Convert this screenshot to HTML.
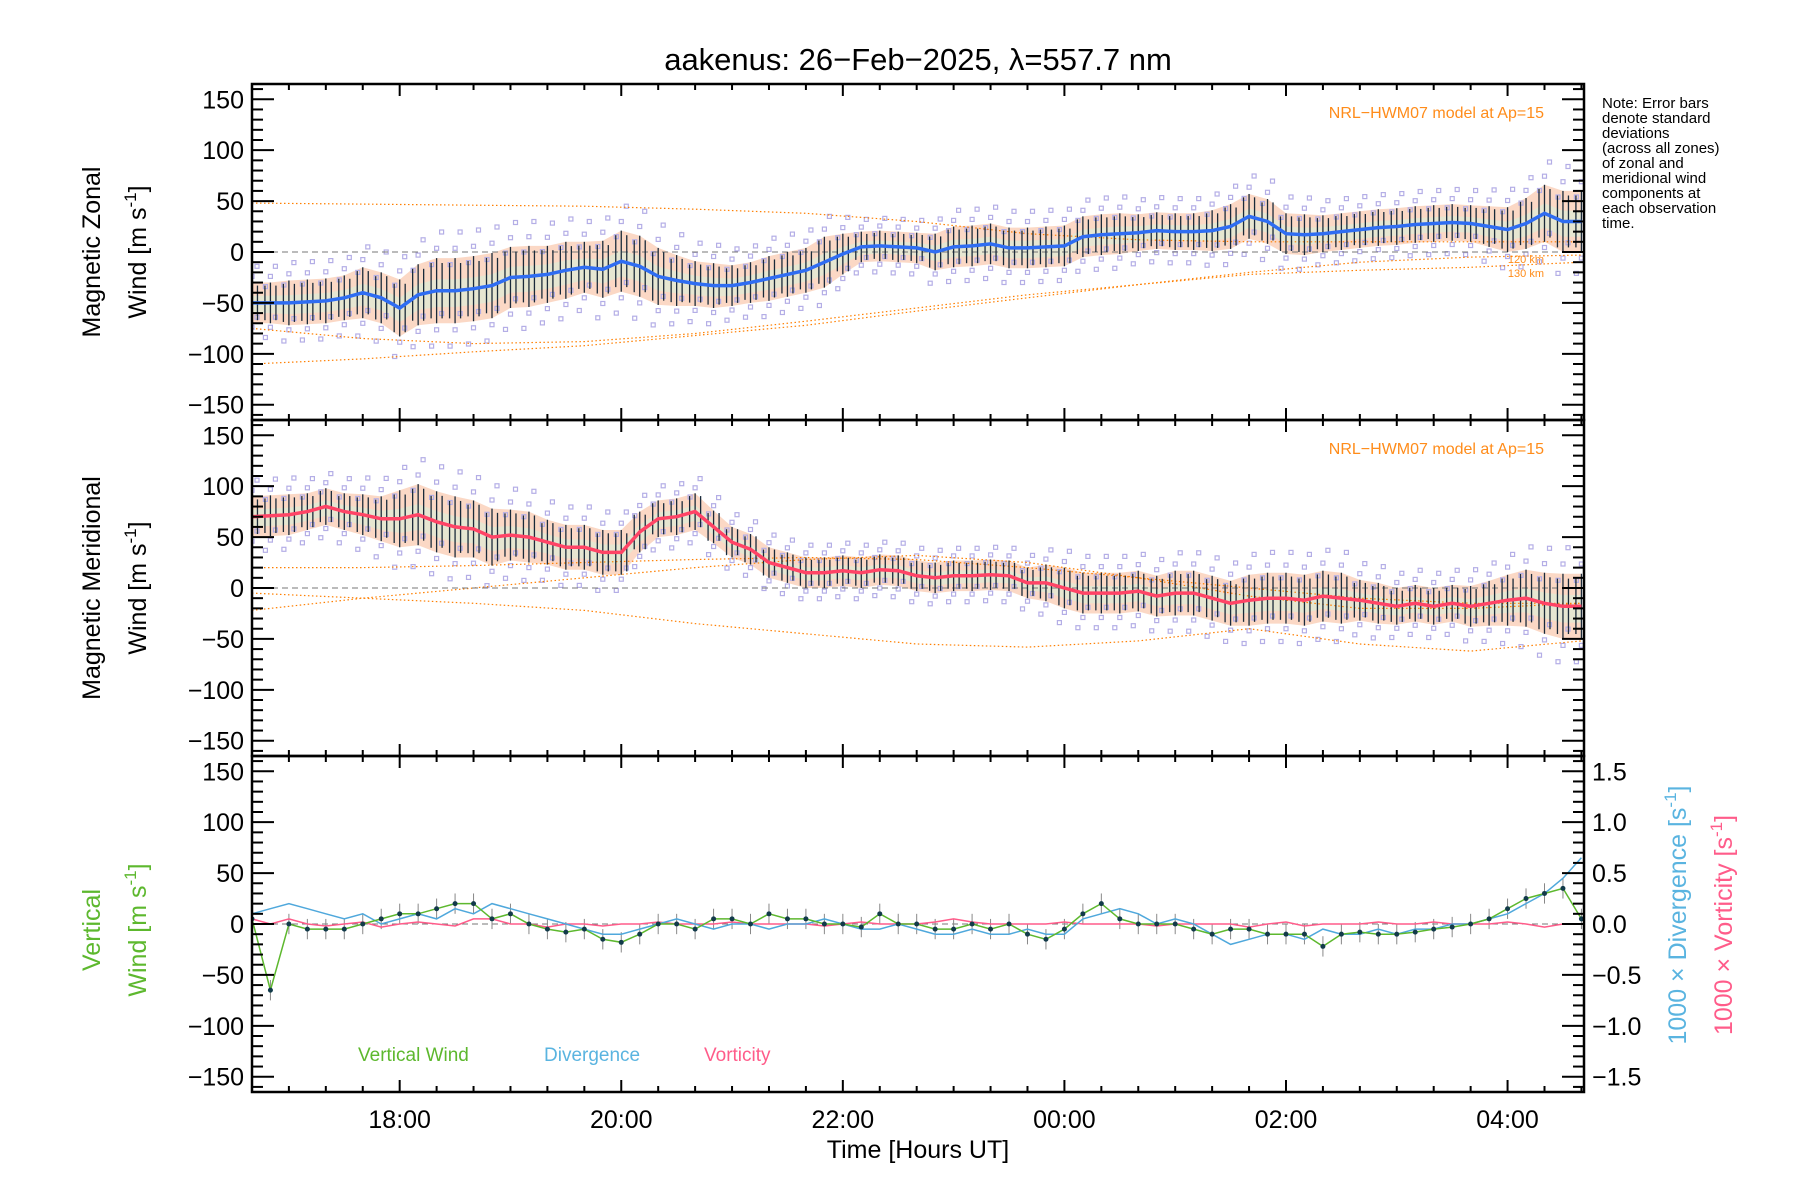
<!DOCTYPE html>
<html><head><meta charset="utf-8"><style>
html,body{margin:0;padding:0;background:#fff;}
svg{display:block;font-family:"Liberation Sans",sans-serif;}
</style></head><body>
<svg id="chart" width="1800" height="1200" viewBox="0 0 1800 1200" xmlns="http://www.w3.org/2000/svg">
<defs>
<clipPath id="clip0"><rect x="252" y="84" width="1332" height="336"/></clipPath>
<clipPath id="clip1"><rect x="252" y="420" width="1332" height="336"/></clipPath>
<clipPath id="clip2"><rect x="252" y="756" width="1332" height="336"/></clipPath>
</defs>
<text x="918" y="70" font-size="31" text-anchor="middle">aakenus: 26−Feb−2025, λ=557.7 nm</text>
<g id="g-note" font-size="15">
<text x="1602" y="108">Note: Error bars</text><text x="1602" y="123">denote standard</text><text x="1602" y="138">deviations</text><text x="1602" y="153">(across all zones)</text><text x="1602" y="168">of zonal and</text><text x="1602" y="183">meridional wind</text><text x="1602" y="198">components at</text><text x="1602" y="213">each observation</text><text x="1602" y="228">time.</text>
</g>
<text x="1544" y="118" font-size="16" fill="#ff8c1a" text-anchor="end">NRL−HWM07 model at Ap=15</text>
<text x="1544" y="454" font-size="16" fill="#ff8c1a" text-anchor="end">NRL−HWM07 model at Ap=15</text>
<text x="1544" y="263" font-size="11" fill="#ff8c1a" text-anchor="end">120 km</text>
<text x="1544" y="277" font-size="11" fill="#ff8c1a" text-anchor="end">130 km</text>
<text transform="translate(100,252) rotate(-90)" font-size="25" text-anchor="middle">Magnetic Zonal</text>
<text transform="translate(146,252) rotate(-90)" font-size="25" text-anchor="middle">Wind [m s<tspan dy="-10" font-size="17">-1</tspan><tspan dy="10">]</tspan></text>
<text transform="translate(100,588) rotate(-90)" font-size="25" text-anchor="middle">Magnetic Meridional</text>
<text transform="translate(146,588) rotate(-90)" font-size="25" text-anchor="middle">Wind [m s<tspan dy="-10" font-size="17">-1</tspan><tspan dy="10">]</tspan></text>
<text transform="translate(100,930) rotate(-90)" font-size="25" fill="#5db82e" text-anchor="middle">Vertical</text>
<text transform="translate(146,930) rotate(-90)" font-size="25" fill="#5db82e" text-anchor="middle">Wind [m s<tspan dy="-10" font-size="17">-1</tspan><tspan dy="10">]</tspan></text>
<text transform="translate(1686,915) rotate(-90)" font-size="25" fill="#5ab4e0" text-anchor="middle">1000 × Divergence [s<tspan dy="-10" font-size="17">-1</tspan><tspan dy="10">]</tspan></text>
<text transform="translate(1732,925) rotate(-90)" font-size="25" fill="#ff5c8a" text-anchor="middle">1000 × Vorticity [s<tspan dy="-10" font-size="17">-1</tspan><tspan dy="10">]</tspan></text>
<text x="358" y="1061" font-size="19" fill="#5db82e">Vertical Wind</text>
<text x="544" y="1061" font-size="19" fill="#5ab4e0">Divergence</text>
<text x="704" y="1061" font-size="19" fill="#ff5c8a">Vorticity</text>
<text x="918" y="1158" font-size="25" text-anchor="middle">Time [Hours UT]</text>
</svg>
<script>
var modelHours = [16.667,17.667,18.667,19.667,20.667,21.667,22.667,23.667,24.667,25.667,26.667,27.667,28.667];
var zonalModelA = [48,47,46,45,42,38,30,18,12,10,10,10,10];
var zonalModelB = [-75,-85,-90,-88,-80,-68,-55,-42,-32,-20,-10,-5,-3];
var zonalModelC = [-110,-105,-98,-92,-82,-72,-58,-45,-32,-22,-18,-15,-10];
var meridModelA = [20,20,22,25,28,30,28,20,10,0,-10,-15,-15];
var meridModelB = [-5,-10,-15,-22,-35,-45,-55,-58,-52,-40,-55,-62,-52];
var meridModelC = [-22,-10,0,10,20,28,32,25,10,-8,-20,-20,-15];
var zonalMean = [
-50,-50,-50,-49,-48,-45, -40,-45,-55,-42,-38,-38, -36,-33,-25,-24,-22,-18, -15,-17,-9,-14,-24,-28,
-31,-33,-33,-30,-26,-22, -18,-10,-2,5,6,5, 4,0,5,6,8,4, 4,5,6,15,17,18,
19,21,20,20,21,25, 35,30,18,17,18,20, 22,24,25,27,28,29, 28,25,22,28,38,30, 30];
var zonalStd = [
20,20,22,22,22,22, 25,25,28,30,32,32, 32,32,30,30,28,28, 25,28,30,30,28,25,
22,22,20,20,22,22, 22,25,20,15,15,15, 15,18,20,20,20,20, 20,20,20,20,20,20,
18,18,18,18,20,22, 22,22,20,20,18,18, 18,18,18,18,18,18, 18,20,22,25,28,30, 30];
var meridMean = [
70,71,72,75,80,75, 72,68,68,72,65,60, 58,50,52,50,45,40, 40,35,35,55,68,70,
75,60,45,38,25,20, 15,15,17,15,18,17, 12,10,12,12,13,12, 5,5,0,-5,-5,-5,
-3,-8,-5,-5,-10,-15, -12,-10,-10,-12,-8,-10, -12,-15,-18,-15,-18,-15, -18,-15,-12,-10,-15,-18, -18];
var meridStd = [
20,20,20,18,18,18, 20,22,28,30,30,30, 28,28,25,25,22,22, 22,22,22,20,18,18,
18,16,15,15,15,15, 15,15,15,15,15,15, 15,15,15,15,15,15, 15,18,20,20,20,20,
20,20,22,22,22,22, 25,25,25,25,25,25, 20,20,18,18,18,18, 20,22,25,28,30,32, 32];
var verticalWind = [
5,-65,0,-5,-5,-5, 0,5,10,10,15,20, 20,5,10,0,-5,-8, -5,-15,-18,-10,0,0,
-5,5,5,0,10,5, 5,0,0,-3,10,0, 0,-5,-5,0,-5,0, -10,-15,-5,10,20,5,
0,0,0,-5,-10,-5, -5,-10,-10,-10,-22,-10, -8,-10,-10,-8,-5,-3, 0,5,15,25,30,35, 5];
var divergence = [
0.1,0.15,0.2,0.15,0.1,0.05, 0.1,0.0,0.05,0.1,0.05,0.15, 0.1,0.2,0.15,0.1,0.05,0.0, -0.05,-0.1,-0.1,-0.05,0.0,0.05,
0.0,-0.05,0.0,0.0,-0.05,0.0, 0.0,0.05,0.0,-0.05,-0.05,0.0, -0.05,-0.1,-0.1,-0.05,-0.1,-0.1, -0.05,-0.1,-0.1,0.05,0.1,0.15,
0.1,0.0,0.05,0.0,-0.1,-0.2, -0.15,-0.1,-0.1,-0.15,-0.05,-0.1, -0.1,-0.05,-0.1,-0.05,-0.05,0.0, 0.0,0.05,0.1,0.2,0.3,0.45, 0.65];
var vorticity = [
0.05,0.0,0.05,0.0,-0.02,0.0, 0.02,-0.03,0.0,0.02,0.0,-0.02, 0.05,0.05,0.0,0.0,-0.03,0.0, 0.0,-0.02,0.0,0.0,0.02,0.0,
0.0,0.0,0.02,0.0,0.0,0.0, 0.0,-0.02,0.0,0.02,0.0,0.0, 0.0,0.02,0.05,0.02,0.0,0.0, 0.0,0.0,0.02,0.0,0.0,0.0,
0.0,-0.02,0.0,0.0,0.0,0.0, -0.03,0.0,0.02,-0.02,0.0,0.0, 0.0,0.02,0.0,0.0,0.02,0.0, 0.0,0.0,0.02,0.0,-0.03,0.0, 0.0];
var yTickValues = [-150,-100,-50,0,50,100,150];
var rightTickValues = [-1.5,-1.0,-0.5,0.0,0.5,1.0,1.5];
var xTickHours = [18,20,22,24,26,28];
var xTickLabels = ["18:00","20:00","22:00","00:00","02:00","04:00"];
var scatterK = [-1.7,-1.2,-0.7,0.8,1.3,1.8];

var NS = "http://www.w3.org/2000/svg";
var svg = document.getElementById("chart");
var target = svg;
var L = 252, R = 1584, T0 = 16.667, T1 = 28.69;
var panelTop = [84, 420, 756], panelBot = [420, 756, 1092];
function X(t){ return L + (t - T0) / (T1 - T0) * (R - L); }
function Y(p, v){ return panelBot[p] - (v + 165) * 336 / 330; }
function YR(d){ return 1092 - (d + 1.65) * 336 / 3.3; }
function tOf(i){ return 16.6667 + i / 6; }
function mk(tag, attrs){ var e = document.createElementNS(NS, tag); for (var k in attrs) e.setAttribute(k, attrs[k]); target.appendChild(e); return e; }
function startClip(p, nm){
  target = svg;
  var g = mk("g", {"clip-path": "url(#clip" + p + ")"});
  
  
  target = g;
}

function polyline(ts, vs, yf, stroke, w, dash, name){
  var pts = ts.map(function(t, i){ return X(t).toFixed(1) + "," + yf(vs[i]).toFixed(1); }).join(" ");
  var e = mk("polyline", {points: pts, fill: "none", stroke: stroke, "stroke-width": w});
  if (dash) e.setAttribute("stroke-dasharray", dash);
  
  
  return e;
}
var idx = zonalMean.map(function(_, i){ return tOf(i); });

function windPanel(p, mean, std, models, lineColor, nm){
  startClip(p, nm);
  var up = mean.map(function(m, i){ return X(idx[i]).toFixed(1) + "," + Y(p, m + std[i]).toFixed(1); });
  var dn = mean.map(function(m, i){ return X(idx[i]).toFixed(1) + "," + Y(p, m - std[i]).toFixed(1); }).reverse();
  var band = mk("polygon", {points: up.concat(dn).join(" "), fill: "#f7b896", opacity: "0.55"});
  
  
  var up2 = mean.map(function(m, i){ return X(idx[i]).toFixed(1) + "," + Y(p, m + std[i] * 0.35).toFixed(1); });
  var dn2 = mean.map(function(m, i){ return X(idx[i]).toFixed(1) + "," + Y(p, m - std[i] * 0.5).toFixed(1); }).reverse();
  var band2 = mk("polygon", {points: up2.concat(dn2).join(" "), fill: "#d8f0d8", opacity: "0.6"});
  
  
  mean.forEach(function(m, i){
    scatterK.forEach(function(k, j){
      var v = m + k * std[i];
      var s = mk("rect", {x: (X(idx[i]) - 2 + (j % 3 - 1) * 5).toFixed(1), y: (Y(p, v) - 2).toFixed(1), width: 4, height: 4, fill: "none", stroke: "#b4aee6", "stroke-width": 1.2});
      
      
    });
  });
  models.forEach(function(mv, j){
    polyline(modelHours, mv, function(v){ return Y(p, v); }, "#ff7f00", 1.2, "1.5,2.5", nm + "-hwm-model-" + j);
  });
  var z = mk("line", {x1: L, x2: R, y1: Y(p, 0), y2: Y(p, 0), stroke: "#777", "stroke-width": 1, "stroke-dasharray": "6,4"});
  
  
  mean.forEach(function(m, i){
    for (var h = -1; h <= 1; h++) {
      var e = mk("line", {x1: X(idx[i]) + h * 5.5, x2: X(idx[i]) + h * 5.5, y1: Y(p, m + std[i] * (h === 0 ? 1 : 0.85)), y2: Y(p, m - std[i] * (h === 0 ? 1 : 0.85)), stroke: "#1a2a3a", "stroke-width": 1.3});
      
      
    }
  });
  polyline(idx, mean, function(v){ return Y(p, v); }, lineColor, 3.5, null, nm + "-mean-line");
  target = svg;
}
windPanel(0, zonalMean, zonalStd, [zonalModelA, zonalModelB, zonalModelC], "#2f6df2", "zonal");
windPanel(1, meridMean, meridStd, [meridModelA, meridModelB, meridModelC], "#ff4466", "meridional");

startClip(2, "vertical");
var z2 = mk("line", {x1: L, x2: R, y1: Y(2, 0), y2: Y(2, 0), stroke: "#777", "stroke-width": 1, "stroke-dasharray": "6,4"});


verticalWind.forEach(function(v, i){
  var e = mk("line", {x1: X(idx[i]), x2: X(idx[i]), y1: Y(2, v + 10), y2: Y(2, v - 10), stroke: "#888", "stroke-width": 1});
  
  
});
polyline(idx, vorticity, YR, "#ff5c8a", 1.5, null, "vorticity-line");
polyline(idx, divergence, YR, "#4fa8dc", 1.5, null, "divergence-line");
polyline(idx, verticalWind, function(v){ return Y(2, v); }, "#5db82e", 1.5, null, "vertical-wind-line");
verticalWind.forEach(function(v, i){
  var c = mk("circle", {cx: X(idx[i]), cy: Y(2, v), r: 2.5, fill: "#123a4a"});
  
  
});
target = svg;

for (var p = 0; p < 3; p++) {
  var fr = mk("rect", {x: L, y: panelTop[p], width: R - L, height: panelBot[p] - panelTop[p], fill: "none", stroke: "#000", "stroke-width": 2.5});
  
  
  for (var v = -160; v <= 160; v += 10) {
    var major = v % 50 === 0;
    var len = major ? 22 : 11;
    var y = Y(p, v);
    var tl = mk("line", {x1: L, x2: L + len, y1: y, y2: y, stroke: "#000", "stroke-width": 2});
    
    
    if (p < 2) {
      var tr = mk("line", {x1: R, x2: R - len, y1: y, y2: y, stroke: "#000", "stroke-width": 2});
      
      
    }
  }
  yTickValues.forEach(function(v){
    var t = mk("text", {x: 244, y: Y(p, v) + 9, "font-size": 25, "text-anchor": "end"});
    t.textContent = (v < 0 ? "−" + Math.abs(v) : String(v));
    
    
  });
  for (var m = 0; m <= 36; m++) {
    var hh = 16.6667 + m / 3;
    if (hh > T1) break;
    var isMaj = Math.abs(hh - Math.round(hh)) < 0.01 && Math.round(hh) % 2 === 0;
    var l2 = isMaj ? 12 : 6;
    var a = mk("line", {x1: X(hh), x2: X(hh), y1: panelBot[p], y2: panelBot[p] - l2, stroke: "#000", "stroke-width": 2});
    
    
    var b = mk("line", {x1: X(hh), x2: X(hh), y1: panelTop[p], y2: panelTop[p] + l2, stroke: "#000", "stroke-width": 2});
    
    
  }
}
for (var d = -1.6; d <= 1.61; d += 0.1) {
  var big = Math.abs(d * 2 - Math.round(d * 2)) < 0.01;
  var rt = mk("line", {x1: R, x2: R - (big ? 22 : 11), y1: YR(d), y2: YR(d), stroke: "#000", "stroke-width": 2});
  
  
}
rightTickValues.forEach(function(d){
  var t = mk("text", {x: 1592, y: YR(d) + 9, "font-size": 25});
  t.textContent = (d < 0 ? "−" + Math.abs(d).toFixed(1) : d.toFixed(1));
  
  
});
xTickHours.forEach(function(h, i){
  var t = mk("text", {x: X(h), y: 1128, "font-size": 25, "text-anchor": "middle"});
  t.textContent = xTickLabels[i];
  
  
});
</script>
</body></html>
